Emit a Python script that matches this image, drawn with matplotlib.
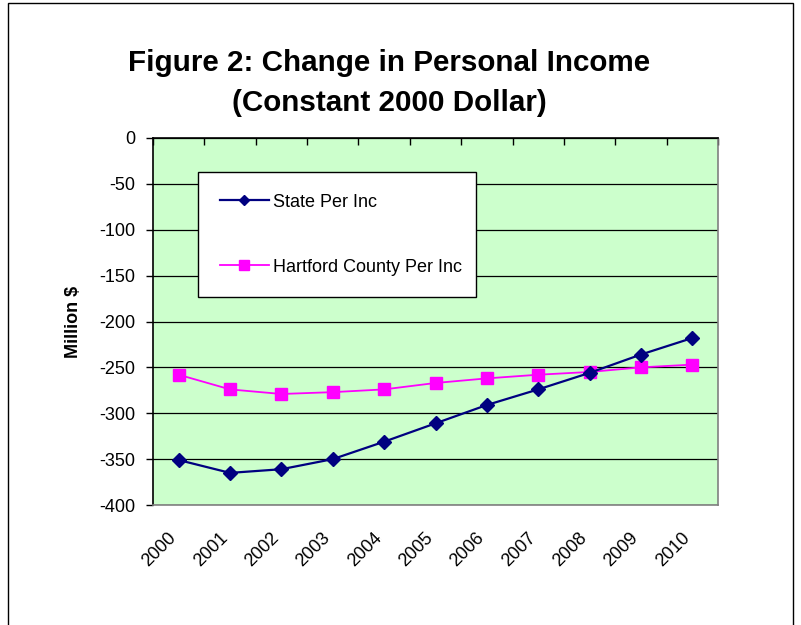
import numpy as np
import matplotlib
matplotlib.use('Agg')
import matplotlib.pyplot as plt
import matplotlib.transforms as mtransforms
from matplotlib.patches import Rectangle

plt.rcParams['font.family'] = ['Liberation Sans', 'DejaVu Sans']

years = ['2000', '2001', '2002', '2003', '2004', '2005',
         '2006', '2007', '2008', '2009', '2010']
state = [-351, -365, -361, -350, -331, -311, -291, -274, -256, -236, -218]
hartford = [-258, -274, -279, -277, -274, -267, -262, -258, -255, -250, -247]
yticks = [0, -50, -100, -150, -200, -250, -300, -350, -400]

fs = 13

fig = plt.figure(figsize=(8.01, 6.25), dpi=100)
ax = fig.add_axes([153 / 801, 1 - 505 / 625, 565 / 801, 367 / 625])
ax.set_facecolor('#CCFFCC')

x = np.arange(len(years))
ax.plot(x, state, color='#000080', lw=1.6, marker='D', ms=6.8,
        mfc='#000080', mec='#000080', label='State Per Inc', zorder=4)
ax.plot(x, hartford, color='#FF00FF', lw=1.3, marker='s', ms=8.8,
        mfc='#FF00FF', mec='#FF00FF', label='Hartford County Per Inc', zorder=3)

ax.set_xlim(-0.5, len(years) - 0.5)
ax.set_ylim(-400, 0)
ax.set_yticks(yticks)
ax.set_yticklabels([str(v) for v in yticks], fontsize=fs)
ax.yaxis.grid(True, color='black', lw=0.9)
ax.set_axisbelow(True)

# category labels: drawn as rotated texts a little left of each category centre
ax.set_xticks(x)
ax.set_xticklabels([])
shift = mtransforms.ScaledTranslation(-0.11, -0.245, fig.dpi_scale_trans)
for xi, yr in zip(x, years):
    ax.text(xi, 0, yr, transform=ax.get_xaxis_transform() + shift,
            rotation=45, rotation_mode='anchor', ha='right', va='top',
            fontsize=fs)
# tick marks at category boundaries along the zero line
ax.set_xticks(np.arange(len(years) + 1) - 0.5, minor=True)
ax.tick_params(axis='x', which='major', length=0)
ax.tick_params(axis='x', which='minor', bottom=False, top=True,
               direction='in', length=5, width=1, color='black')
ax.tick_params(axis='y', which='major', length=5, width=1, pad=8)

ax.spines['top'].set_color('black')
ax.spines['left'].set_color('black')
ax.spines['right'].set_color('#808080')
ax.spines['bottom'].set_color('#808080')
for s in ax.spines.values():
    s.set_linewidth(1.2)

ax.set_ylabel('Million $', fontsize=fs, fontweight='bold')
ax.yaxis.set_label_coords(-0.126, 0.5)

leg = ax.legend(loc='upper left', bbox_to_anchor=(0.08, 0.556, 0.492, 0.351),
                mode='expand', fontsize=fs, frameon=True, fancybox=False,
                edgecolor='black', framealpha=1, borderpad=1.2,
                labelspacing=2.65, handlelength=2.7, handletextpad=0.22,
                markerscale=0.8, borderaxespad=0)
leg.get_frame().set_linewidth(1)

fig.text(0.486, 1 - 83 / 625, 'Figure 2: Change in Personal Income\n(Constant 2000 Dollar)',
         ha='center', va='center', fontsize=21.3, fontweight='bold', linespacing=1.55)

fig.patches.append(Rectangle((8 / 801, -0.05), 785 / 801, 1.05 - 3 / 625,
                             transform=fig.transFigure, fill=False,
                             edgecolor='black', lw=1))

fig.savefig('out.png', dpi=100)
